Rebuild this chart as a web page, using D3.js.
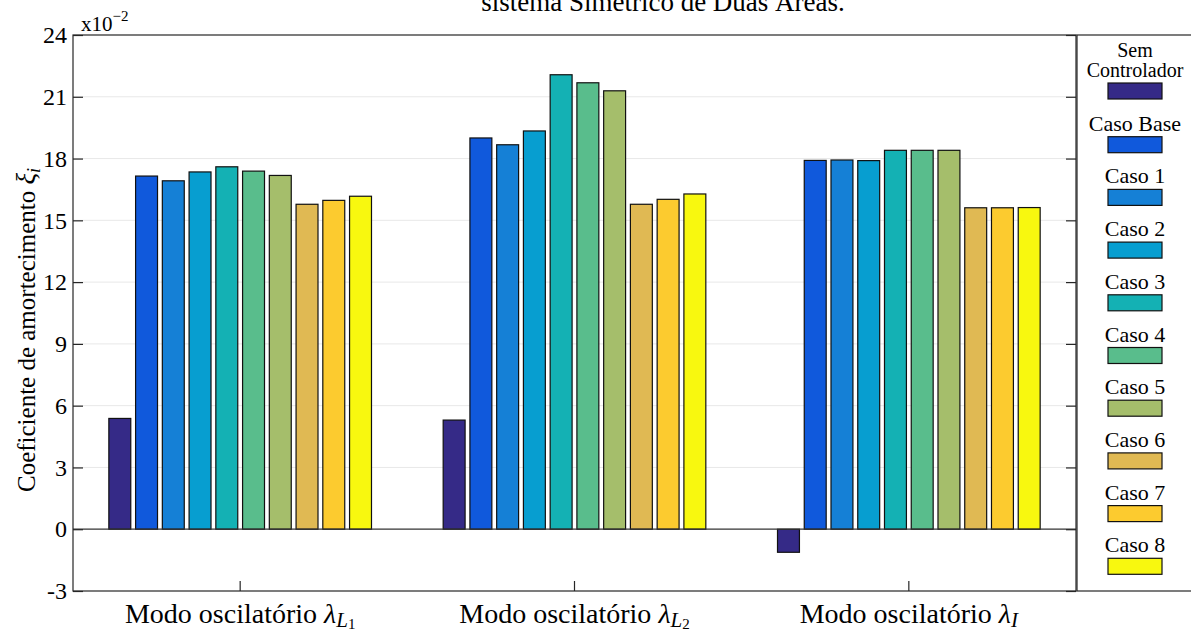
<!DOCTYPE html>
<html><head><meta charset="utf-8">
<script src="https://cdn.jsdelivr.net/npm/d3@7"></script>
<style>
body{margin:0;background:#fff}
svg{display:block}
text{font-family:"Liberation Serif","Times New Roman",Times,serif;fill:#000}
</style>
</head><body>
<svg id="chart" width="1191" height="631"></svg>
<script>
// ---- data (values in units of 1e-2) ----
const modes = ["L1", "L2", "I"];
const seriesNames = ["Sem Controlador", "Caso Base", "Caso 1", "Caso 2", "Caso 3", "Caso 4", "Caso 5", "Caso 6", "Caso 7", "Caso 8"];
const seriesColors = ["#352a87", "#1059dc", "#1580d6", "#079ed0", "#14b1b4", "#59bd8c", "#a5be6b", "#e0b953", "#fccb2f", "#f8f80f"];
const semControlador = [5.38, 5.30, -1.12];
const casoBase = [17.15, 19.00, 17.91];
const caso1 = [16.92, 18.67, 17.93];
const caso2 = [17.35, 19.34, 17.90];
const caso3 = [17.60, 22.07, 18.40];
const caso4 = [17.39, 21.68, 18.40];
const caso5 = [17.18, 21.29, 18.40];
const caso6 = [15.78, 15.78, 15.61];
const caso7 = [15.97, 16.02, 15.61];
const caso8 = [16.17, 16.28, 15.62];
const yTicks = [-3, 0, 3, 6, 9, 12, 15, 18, 21, 24];
const titleText = "sistema Simétrico de Duas Áreas.";

const allSeries = [semControlador, casoBase, caso1, caso2, caso3, caso4, caso5, caso6, caso7, caso8];

// ---- layout ----
const svg = d3.select("#chart");
const L = 73, R = 1076, T = 35, B = 591;
const axisColor = "#262626";

const y = d3.scaleLinear().domain([-3, 24]).range([B, T]);
const x0 = d3.scaleBand().domain(modes).range([L, R]).paddingInner(0.2).paddingOuter(0.1);
const x1 = d3.scaleBand().domain(d3.range(seriesNames.length)).range([0, x0.bandwidth()]).paddingInner(0.18).paddingOuter(0.09);

// grid
svg.append("g").selectAll("line").data(yTicks.filter(d => d !== 0 && d !== 24 && d !== -3)).join("line")
  .attr("x1", L).attr("x2", R).attr("y1", d => y(d)).attr("y2", d => y(d))
  .attr("stroke", "#e8e8e8").attr("stroke-width", 1);

// bars
const gBars = svg.append("g");
modes.forEach((m, gi) => {
  allSeries.forEach((arr, si) => {
    const v = arr[gi];
    gBars.append("rect")
      .attr("x", x0(m) + x1(si))
      .attr("width", x1.bandwidth())
      .attr("y", Math.min(y(v), y(0)))
      .attr("height", Math.abs(y(v) - y(0)))
      .attr("fill", seriesColors[si])
      .attr("stroke", "#111").attr("stroke-width", 1.2);
  });
});

// baseline at zero
svg.append("line").attr("x1", L).attr("x2", R).attr("y1", y(0)).attr("y2", y(0))
  .attr("stroke", "#333").attr("stroke-width", 1.2);

// frame
svg.append("rect").attr("x", L).attr("y", T).attr("width", R - L).attr("height", B - T)
  .attr("fill", "none").attr("stroke", axisColor).attr("stroke-width", 1.2);

// left axis with inward ticks
const yAxisL = d3.axisLeft(y).tickValues(yTicks).tickSize(-10).tickPadding(6).tickFormat(d => String(d));
const gy = svg.append("g").attr("transform", `translate(${L},0)`).call(yAxisL);
gy.select(".domain").remove();
gy.selectAll(".tick line").attr("stroke", axisColor).attr("stroke-width", 1.2);
gy.selectAll(".tick text").style("font-family", '"Liberation Serif",serif').style("font-size", "24px").attr("fill", "#000");

// right axis ticks
const yAxisR = d3.axisRight(y).tickValues(yTicks).tickSize(-10).tickFormat("");
const gyr = svg.append("g").attr("transform", `translate(${R},0)`).call(yAxisR);
gyr.select(".domain").remove();
gyr.selectAll(".tick line").attr("stroke", axisColor).attr("stroke-width", 1.2);

// bottom ticks
const xAxis = d3.axisBottom(x0).tickSize(-10).tickFormat("");
const gx = svg.append("g").attr("transform", `translate(0,${B})`).call(xAxis);
gx.select(".domain").remove();
gx.selectAll(".tick line").attr("stroke", axisColor).attr("stroke-width", 1.2);

// x labels
modes.forEach(m => {
  const cx = x0(m) + x0.bandwidth() / 2;
  const t = svg.append("text").attr("x", cx).attr("y", 623).attr("text-anchor", "middle").style("font-size", "28px");
  t.append("tspan").text("Modo oscilatório ");
  t.append("tspan").style("font-style", "italic").text("λ");
  if (m === "I") {
    t.append("tspan").attr("dy", 4).style("font-style", "italic").style("font-size", "21px").text("I");
  } else {
    t.append("tspan").attr("dy", 4).style("font-style", "italic").style("font-size", "21px").text("L");
    t.append("tspan").attr("dy", 2).style("font-size", "15px").text(m.slice(1));
  }
});

// y label
const yl = svg.append("text").attr("transform", "translate(35,330) rotate(-90)")
  .attr("text-anchor", "middle").style("font-size", "25px");
yl.append("tspan").text("Coeficiente de amortecimento ");
yl.append("tspan").style("font-style", "italic").style("font-size", "27px").text("ξ");
yl.append("tspan").attr("dy", 5).style("font-style", "italic").style("font-size", "18px").text("i");

// exponent
const ex = svg.append("text").attr("x", 81).attr("y", 31).style("font-size", "21px");
ex.append("tspan").text("x10");
ex.append("tspan").attr("dy", -10).style("font-size", "15px").text("−2");

// title (second line visible)
svg.append("text").attr("x", 663).attr("y", 11).attr("text-anchor", "middle").style("font-size", "27px").text(titleText);

// legend
const lg = svg.append("g");
lg.append("rect").attr("x", 1077).attr("y", T).attr("width", 140).attr("height", B - T)
  .attr("fill", "#fff").attr("stroke", axisColor).attr("stroke-width", 1.2);
const lcx = 1135;
seriesNames.forEach((name, i) => {
  let swTop;
  if (i === 0) {
    lg.append("text").attr("x", lcx).attr("y", 57).attr("text-anchor", "middle").style("font-size", "20px").text("Sem");
    lg.append("text").attr("x", lcx).attr("y", 77).attr("text-anchor", "middle").style("font-size", "20px").text("Controlador");
    swTop = 83;
  } else {
    const base = 130.7 + (i - 1) * 52.7;
    lg.append("text").attr("x", lcx).attr("y", base).attr("text-anchor", "middle").style("font-size", "22px").text(name);
    swTop = base + 6;
  }
  lg.append("rect").attr("x", 1108).attr("y", swTop).attr("width", 54).attr("height", 16)
    .attr("fill", seriesColors[i]).attr("stroke", "#111").attr("stroke-width", 1.2);
});
</script>
</body></html>
